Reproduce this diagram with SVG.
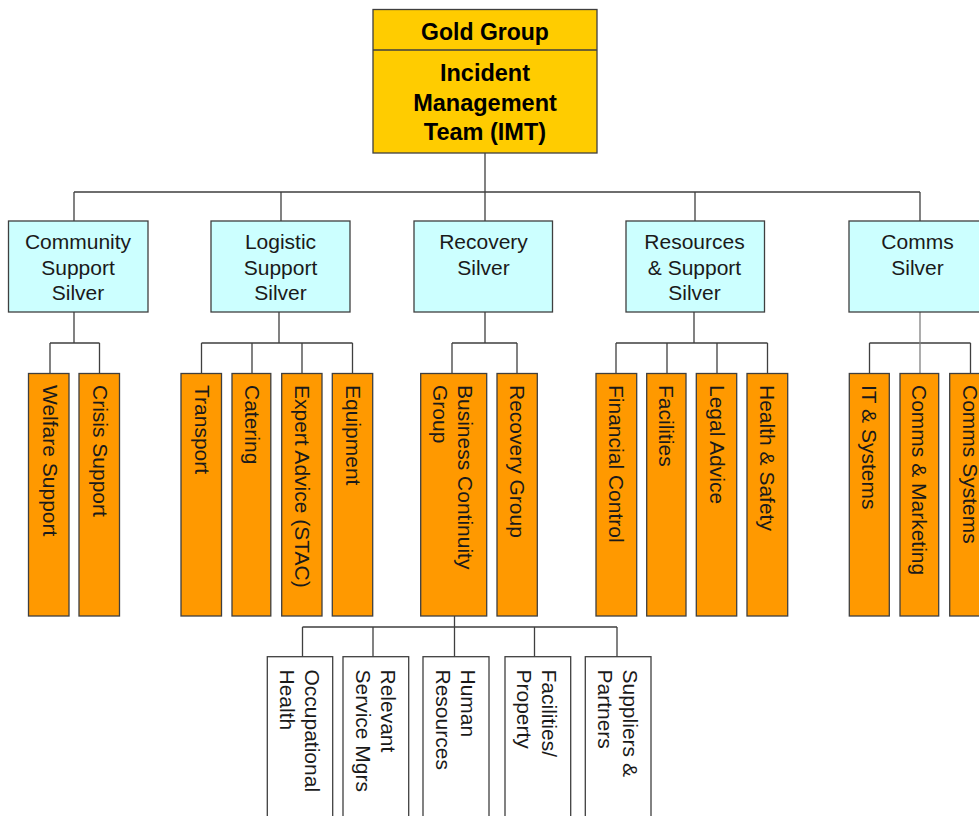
<svg xmlns="http://www.w3.org/2000/svg" width="979" height="816" viewBox="0 0 979 816">
  <style>
    .box { stroke: #3f3f3f; stroke-width: 1.3; }
    .gold { fill: #ffcc00; }
    .silver { fill: #ccffff; }
    .orange { fill: #ff9900; }
    .white { fill: #ffffff; }
    .conn { fill: none; stroke: #3f3f3f; stroke-width: 1.3; }
    .conn-light { fill: none; stroke: #808080; stroke-width: 1.3; }
    text { font-family: "Liberation Sans", Arial, sans-serif; font-size: 21px; fill: #1a1a1a; }
    .title { font-weight: bold; font-size: 23px; fill: #000; text-anchor: middle; }
    .ctr { text-anchor: middle; }
  </style>
  <rect width="979" height="816" fill="#ffffff"/>

  <g id="connectors">
    <!-- gold to silver bus -->
    <path class="conn" d="M485,153 V192 M74,192 H920 M74,192 V221 M281,192 V221 M485,192 V221 M695,192 V221 M920,192 V221"/>
    <!-- community support -->
    <path class="conn" d="M74,312 V343 M50,343 H99.5 M50,343 V373 M99.5,343 V373"/>
    <!-- logistic support -->
    <path class="conn" d="M279,312 V343 M201.5,343 H352.5 M201.5,343 V373 M252,343 V373 M302,343 V373 M352.5,343 V373"/>
    <!-- recovery -->
    <path class="conn" d="M485,312 V343 M452,343 H517 M452,343 V373 M517,343 V373"/>
    <!-- resources & support -->
    <path class="conn" d="M694,312 V343 M616,343 H767.5 M616,343 V373 M667,343 V373 M717,343 V373 M767.5,343 V373"/>
    <!-- comms -->
    <path class="conn" d="M869.5,343 H970.5 M869.5,343 V373 M970.5,343 V373"/>
    <path class="conn-light" d="M920,312 V373"/>
    <!-- business continuity sub-groups -->
    <path class="conn" d="M454.5,616 V627 M302.5,627 H617 M302.5,627 V657 M373,627 V657 M454.5,627 V657 M534.5,627 V657 M617,627 V657"/>
  </g>

  <g id="gold-group">
    <rect class="box gold" x="373" y="9.5" width="224" height="143.5"/>
    <line class="conn" x1="373" y1="50" x2="597" y2="50"/>
    <text class="title" x="485" y="40">Gold Group</text>
    <text class="title" x="485" y="81" style="font-size:23.5px">Incident</text>
    <text class="title" x="485" y="110.5" style="font-size:23.5px">Management</text>
    <text class="title" x="485" y="140" style="font-size:23.5px">Team (IMT)</text>
  </g>

  <g id="community-support-silver">
    <rect class="box silver" x="8.5" y="221" width="139.5" height="91"/>
    <text class="ctr" x="78" y="249.3">Community</text>
    <text class="ctr" x="78" y="274.8">Support</text>
    <text class="ctr" x="78" y="300.3">Silver</text>
  </g>
  <g id="logistic-support-silver">
    <rect class="box silver" x="211" y="221" width="139" height="91"/>
    <text class="ctr" x="280.5" y="249.3">Logistic</text>
    <text class="ctr" x="280.5" y="274.8">Support</text>
    <text class="ctr" x="280.5" y="300.3">Silver</text>
  </g>
  <g id="recovery-silver">
    <rect class="box silver" x="414" y="221" width="138.5" height="91"/>
    <text class="ctr" x="483.5" y="249.3">Recovery</text>
    <text class="ctr" x="483.5" y="274.8">Silver</text>
  </g>
  <g id="resources-support-silver">
    <rect class="box silver" x="626" y="221" width="138.5" height="91"/>
    <text class="ctr" x="694.5" y="249.3">Resources</text>
    <text class="ctr" x="694.5" y="274.8">&amp; Support</text>
    <text class="ctr" x="694.5" y="300.3">Silver</text>
  </g>
  <g id="comms-silver">
    <rect class="box silver" x="849" y="221" width="139" height="91"/>
    <text class="ctr" x="917.5" y="249.3">Comms</text>
    <text class="ctr" x="917.5" y="274.8">Silver</text>
  </g>

  <!-- bronze teams: text runs top to bottom -->
  <g id="welfare-support">
    <rect class="box orange" x="28.5" y="373.5" width="40.5" height="242.5"/>
    <text transform="translate(43,385) rotate(90)">Welfare Support</text>
  </g>
  <g id="crisis-support">
    <rect class="box orange" x="79" y="373.5" width="40.5" height="242.5"/>
    <text transform="translate(92.8,385) rotate(90)">Crisis Support</text>
  </g>
  <g id="transport">
    <rect class="box orange" x="181" y="373.5" width="40.5" height="242.5"/>
    <text transform="translate(194.5,385) rotate(90)">Transport</text>
  </g>
  <g id="catering">
    <rect class="box orange" x="232" y="373.5" width="38.8" height="242.5"/>
    <text transform="translate(244.8,385) rotate(90)">Catering</text>
  </g>
  <g id="expert-advice">
    <rect class="box orange" x="281.7" y="373.5" width="40.3" height="242.5"/>
    <text transform="translate(295,385) rotate(90)">Expert Advice (STAC)</text>
  </g>
  <g id="equipment">
    <rect class="box orange" x="332.3" y="373.5" width="40.4" height="242.5"/>
    <text transform="translate(345.5,385) rotate(90)">Equipment</text>
  </g>
  <g id="business-continuity-group">
    <rect class="box orange" x="420.7" y="373.5" width="66" height="242.5"/>
    <text transform="translate(458.4,385) rotate(90)">Business Continuity</text>
    <text transform="translate(433.4,385) rotate(90)">Group</text>
  </g>
  <g id="recovery-group">
    <rect class="box orange" x="497" y="373.5" width="40.3" height="242.5"/>
    <text transform="translate(509.8,385) rotate(90)">Recovery Group</text>
  </g>
  <g id="financial-control">
    <rect class="box orange" x="596" y="373.5" width="40.7" height="242.5"/>
    <text transform="translate(608.8,385) rotate(90)">Financial Control</text>
  </g>
  <g id="facilities">
    <rect class="box orange" x="646.7" y="373.5" width="39.3" height="242.5"/>
    <text transform="translate(659.3,385) rotate(90)">Facilities</text>
  </g>
  <g id="legal-advice">
    <rect class="box orange" x="696.3" y="373.5" width="40.4" height="242.5"/>
    <text transform="translate(709.8,385) rotate(90)">Legal Advice</text>
  </g>
  <g id="health-safety">
    <rect class="box orange" x="747" y="373.5" width="40.7" height="242.5"/>
    <text transform="translate(759.8,385) rotate(90)">Health &amp; Safety</text>
  </g>
  <g id="it-systems">
    <rect class="box orange" x="849.3" y="373.5" width="40" height="242.5"/>
    <text transform="translate(862.3,385) rotate(90)">IT &amp; Systems</text>
  </g>
  <g id="comms-marketing">
    <rect class="box orange" x="900" y="373.5" width="38.7" height="242.5"/>
    <text transform="translate(912,385) rotate(90)">Comms &amp; Marketing</text>
  </g>
  <g id="comms-systems">
    <rect class="box orange" x="949.7" y="373.5" width="40" height="242.5"/>
    <text transform="translate(962.7,385) rotate(90)">Comms Systems</text>
  </g>

  <!-- business continuity sub-groups -->
  <g id="occupational-health">
    <rect class="box white" x="267.3" y="656.7" width="65.4" height="180"/>
    <text transform="translate(304.5,669.5) rotate(90)">Occupational</text>
    <text transform="translate(279.5,669.5) rotate(90)">Health</text>
  </g>
  <g id="relevant-service-mgrs">
    <rect class="box white" x="343" y="656.7" width="65.7" height="180"/>
    <text transform="translate(380.7,669.5) rotate(90)">Relevant</text>
    <text transform="translate(355.7,669.5) rotate(90)">Service Mgrs</text>
  </g>
  <g id="human-resources">
    <rect class="box white" x="423" y="656.7" width="66" height="180"/>
    <text transform="translate(460.7,669.5) rotate(90)">Human</text>
    <text transform="translate(435.7,669.5) rotate(90)">Resources</text>
  </g>
  <g id="facilities-property">
    <rect class="box white" x="505" y="656.7" width="65.7" height="180"/>
    <text transform="translate(542.3,669.5) rotate(90)">Facilities/</text>
    <text transform="translate(517.3,669.5) rotate(90)">Property</text>
  </g>
  <g id="suppliers-partners">
    <rect class="box white" x="585.3" y="656.7" width="65.7" height="180"/>
    <text transform="translate(622.5,669.5) rotate(90)">Suppliers &amp;</text>
    <text transform="translate(597.5,669.5) rotate(90)">Partners</text>
  </g>
</svg>
